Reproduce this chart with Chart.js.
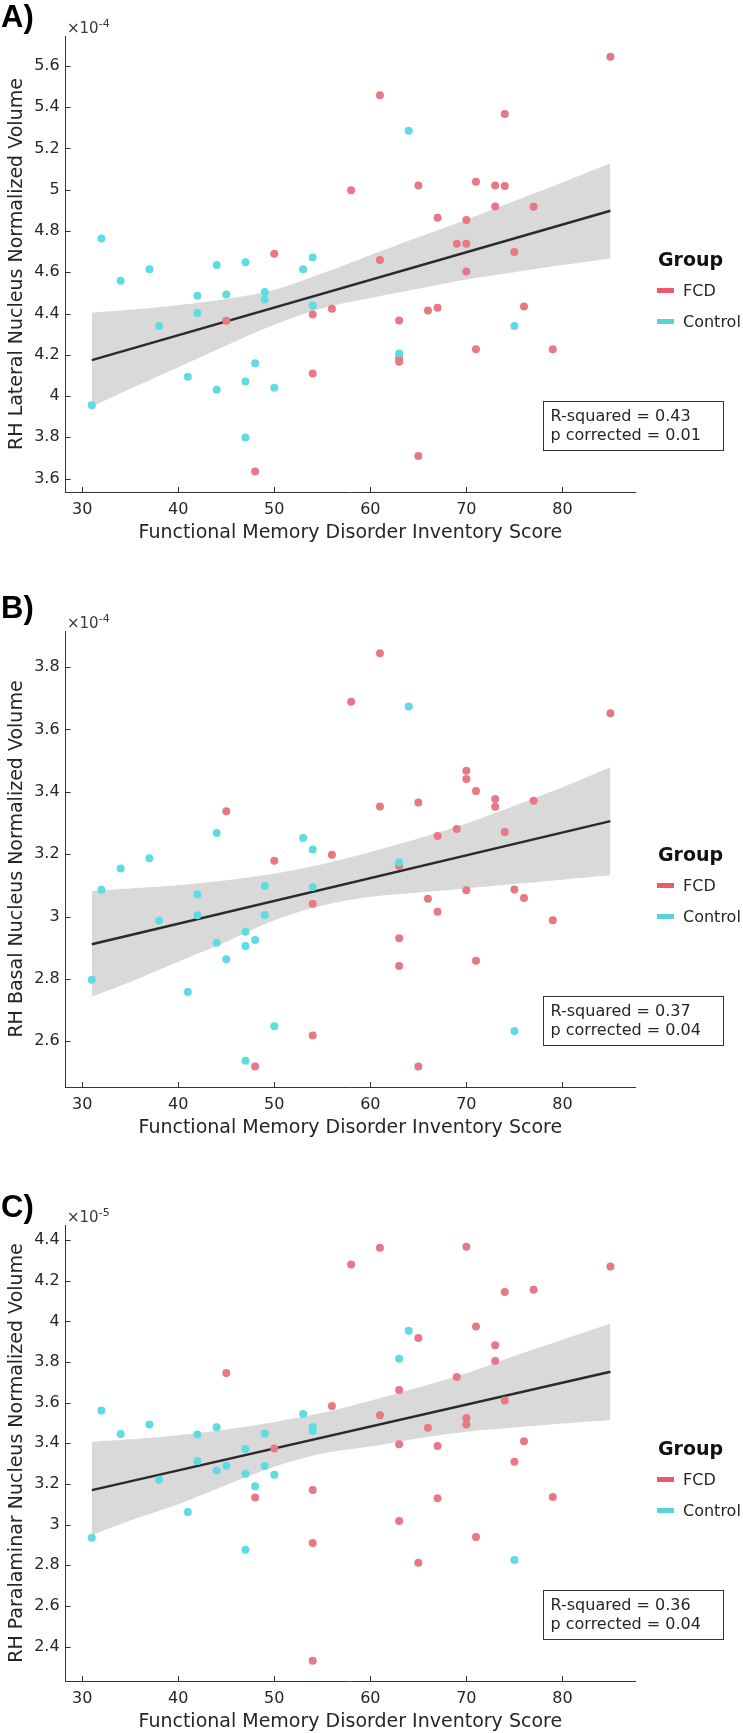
<!DOCTYPE html>
<html>
<head>
<meta charset="utf-8">
<script src="https://cdn.jsdelivr.net/npm/chart.js@4.4.1/dist/chart.umd.min.js"></script>
<style>
  html, body { margin:0; padding:0; background:#fff; }
  body { width:743px; height:1733px; position:relative; overflow:hidden; font-family:"DejaVu Sans", sans-serif; color:#262626; }
  .panel { position:absolute; left:0; width:743px; }
  .panel canvas { position:absolute; left:0; top:0; }
  .plab { position:absolute; left:1px; font:bold 31px/31px "Liberation Sans", Arial, sans-serif; color:#000; }
  .exp { position:absolute; left:67px; top:20.5px; font:15px/15px "DejaVu Sans"; color:#3a3a3a; white-space:nowrap; }
  .exp span { font-size:11px; position:relative; top:-6px; }
  .lg-title { position:absolute; left:658px; top:250.4px; font:bold 19px/19px "DejaVu Sans"; color:#111; }
  .lg-sw { position:absolute; left:657px; width:17px; height:5px; }
  .lg-txt { position:absolute; left:683px; font:16px/16px "DejaVu Sans"; color:#262626; white-space:nowrap; }
  .stats { position:absolute; left:542.5px; top:401px; width:179px; height:48px; border:1px solid #333; font:16px/18.6px "DejaVu Sans"; color:#262626; padding:5px 0 0 7px; box-sizing:border-box; width:181px; height:50px; white-space:nowrap; }
</style>
</head>
<body>
<script>
// ---------------- DATA ----------------
const X_TICKS = [30, 40, 50, 60, 70, 80];
const A_Y_TICKS = [3.6, 3.8, 4.0, 4.2, 4.4, 4.6, 4.8, 5.0, 5.2, 5.4, 5.6];
const B_Y_TICKS = [2.6, 2.8, 3.0, 3.2, 3.4, 3.6, 3.8];
const C_Y_TICKS = [2.4, 2.6, 2.8, 3.0, 3.2, 3.4, 3.6, 3.8, 4.0, 4.2, 4.4];

const GROUPS = ["FCD", "Control"];

// Panel A: RH Lateral Nucleus (x10^-4)
const A_CTRL_X = [64,32,34,37,44,47,53,54,42,45,49,49,54,42,38,63,75,48,41,47,44,50,31,47];
const A_CTRL_Y = [5.286,4.764,4.559,4.615,4.635,4.648,4.615,4.672,4.486,4.492,4.504,4.468,4.439,4.402,4.339,4.206,4.340,4.159,4.093,4.070,4.030,4.040,3.956,3.799];
const A_FCD_X = [85,61,74,58,65,71,73,74,73,77,67,70,69,70,75,50,61,70,56,66,67,76,54,45,63,71,79,63,63,54,65,48];
const A_FCD_Y = [5.644,5.458,5.367,4.997,5.020,5.039,5.020,5.018,4.919,4.918,4.864,4.853,4.738,4.738,4.698,4.690,4.659,4.604,4.423,4.415,4.428,4.434,4.395,4.365,4.366,4.227,4.227,4.185,4.166,4.109,3.710,3.634];

// Panel B: RH Basal Nucleus (x10^-4)
const B_CTRL_X = [64,44,53,54,37,34,32,42,49,54,63,38,42,49,47,44,48,47,45,31,41,50,75,47];
const B_CTRL_Y = [3.674,3.268,3.252,3.215,3.187,3.154,3.086,3.071,3.098,3.095,3.173,2.986,3.004,3.005,2.951,2.916,2.925,2.905,2.863,2.797,2.758,2.648,2.633,2.537];
const B_FCD_X = [61,58,85,70,70,71,65,73,73,61,77,45,69,74,67,56,50,63,54,66,67,70,75,76,79,63,63,71,54,48,65];
const B_FCD_Y = [3.845,3.689,3.652,3.468,3.441,3.403,3.366,3.377,3.352,3.353,3.371,3.338,3.281,3.271,3.258,3.198,3.179,3.162,3.041,3.057,3.015,3.084,3.087,3.059,2.988,2.930,2.841,2.858,2.618,2.519,2.519];

// Panel C: RH Paralaminar Nucleus (x10^-5)
const C_CTRL_X = [64,63,32,53,37,34,42,44,49,54,54,47,42,45,44,49,47,50,38,48,41,31,47,75];
const C_CTRL_Y = [3.954,3.816,3.561,3.544,3.493,3.446,3.444,3.479,3.448,3.480,3.461,3.372,3.313,3.290,3.266,3.289,3.251,3.246,3.221,3.189,3.062,2.936,2.877,2.826];
const C_FCD_X = [61,70,58,85,74,77,71,65,73,73,45,69,63,56,74,61,70,70,66,50,63,67,76,75,54,48,67,79,63,71,54,65,54];
const C_FCD_Y = [4.362,4.367,4.280,4.270,4.144,4.156,3.975,3.918,3.882,3.805,3.746,3.726,3.662,3.584,3.611,3.538,3.525,3.493,3.477,3.375,3.395,3.387,3.410,3.310,3.170,3.134,3.130,3.136,3.018,2.939,2.910,2.813,2.331];

// Fitted line end points and confidence band
const FIT_X = [31, 85];
const A_FIT_Y = [4.174, 4.898];
const B_FIT_Y = [2.911, 3.306];
const C_FIT_Y = [3.170, 3.752];

const BAND_X = [31, 35, 40, 45, 50, 55, 60, 65, 70, 75, 80, 85];
const A_UPPER = [4.404,4.418,4.440,4.470,4.515,4.595,4.683,4.770,4.855,4.945,5.035,5.128];
const A_LOWER = [3.948,4.035,4.140,4.245,4.345,4.425,4.475,4.520,4.565,4.600,4.635,4.667];
const B_UPPER = [3.082,3.090,3.100,3.116,3.138,3.168,3.207,3.250,3.298,3.355,3.415,3.479];
const B_LOWER = [2.743,2.790,2.855,2.919,2.988,3.035,3.063,3.077,3.090,3.104,3.118,3.132];
const C_UPPER = [3.408,3.420,3.440,3.468,3.505,3.550,3.610,3.675,3.745,3.830,3.910,3.990];
const C_LOWER = [2.949,3.020,3.100,3.195,3.285,3.350,3.384,3.425,3.457,3.478,3.497,3.515];

const PANEL_LABELS = ["A)", "B)", "C)"];
const Y_TITLES = ["RH Lateral Nucleus Normalized Volume", "RH Basal Nucleus Normalized Volume", "RH Paralaminar Nucleus Normalized Volume"];
const EXPONENTS = ["-4", "-4", "-5"];
const R_SQUARED = ["0.43", "0.37", "0.36"];
const P_CORRECTED = ["0.01", "0.04", "0.04"];
const X_TITLE = "Functional Memory Disorder Inventory Score";

// ---------------- STYLE ----------------
const RED = "#E87886";
const CYAN = "#5EDCE0";
const RED_LEG = "#EA5A6A";
const CYAN_LEG = "#58D3D9";
const BAND = "#D9D9D9";
const LINE = "#2a2a2a";
const AXIS = "#333333";
const TXT = "#262626";

const X_RANGE = [28.27, 87.56];
const PANELS = [
  { top: 0,    h: 595, labTop: 1,    yr: [3.535, 5.745], yt: A_Y_TICKS, cx: A_CTRL_X, cy: A_CTRL_Y, fx: A_FCD_X, fy: A_FCD_Y, fit: A_FIT_Y, up: A_UPPER, lo: A_LOWER },
  { top: 595,  h: 594, labTop: -3.4, yr: [2.453, 3.916], yt: B_Y_TICKS, cx: B_CTRL_X, cy: B_CTRL_Y, fx: B_FCD_X, fy: B_FCD_Y, fit: B_FIT_Y, up: B_UPPER, lo: B_LOWER },
  { top: 1189, h: 544, labTop: 2.3,  yr: [2.231, 4.474], yt: C_Y_TICKS, cx: C_CTRL_X, cy: C_CTRL_Y, fx: C_FCD_X, fy: C_FCD_Y, fit: C_FIT_Y, up: C_UPPER, lo: C_LOWER },
];

const pts = (xs, ys) => xs.map((x, i) => ({ x: x, y: ys[i] }));
const fmt = v => String(Number(v.toFixed(2)));

const inwardTicks = {
  id: "inwardTicks",
  afterDraw(chart) {
    const { ctx, chartArea: ca, scales: { x, y } } = chart;
    ctx.save();
    ctx.strokeStyle = AXIS;
    ctx.lineWidth = 1;
    x.ticks.forEach(t => {
      const px = Math.round(x.getPixelForValue(t.value)) + 0.5;
      ctx.beginPath(); ctx.moveTo(px, ca.bottom); ctx.lineTo(px, ca.bottom - 5); ctx.stroke();
    });
    y.ticks.forEach(t => {
      const py = Math.round(y.getPixelForValue(t.value)) + 0.5;
      ctx.beginPath(); ctx.moveTo(ca.left, py); ctx.lineTo(ca.left + 5, py); ctx.stroke();
    });
    ctx.restore();
  }
};

PANELS.forEach((p, i) => {
  const div = document.createElement("div");
  div.className = "panel";
  div.style.top = p.top + "px";
  div.style.height = p.h + "px";
  document.body.appendChild(div);

  const cv = document.createElement("canvas");
  cv.width = 743; cv.height = p.h;
  cv.style.width = "743px"; cv.style.height = p.h + "px";
  div.appendChild(cv);

  const lab = document.createElement("div");
  lab.className = "plab"; lab.style.top = p.labTop + "px"; lab.textContent = PANEL_LABELS[i];
  div.appendChild(lab);

  const ex = document.createElement("div");
  ex.className = "exp";
  ex.innerHTML = "×10<span>" + EXPONENTS[i] + "</span>";
  div.appendChild(ex);

  const lt = document.createElement("div");
  lt.className = "lg-title"; lt.textContent = "Group";
  div.appendChild(lt);
  [[GROUPS[0], RED_LEG, 290.7], [GROUPS[1], CYAN_LEG, 321.7]].forEach(([name, col, cy]) => {
    const sw = document.createElement("div");
    sw.className = "lg-sw"; sw.style.background = col; sw.style.top = (cy - 2.5) + "px";
    div.appendChild(sw);
    const tx = document.createElement("div");
    tx.className = "lg-txt"; tx.style.top = (cy - 7.7) + "px"; tx.textContent = name;
    div.appendChild(tx);
  });

  const st = document.createElement("div");
  st.className = "stats";
  st.innerHTML = "R-squared = " + R_SQUARED[i] + "<br>p corrected = " + P_CORRECTED[i];
  div.appendChild(st);

  new Chart(cv.getContext("2d"), {
    type: "scatter",
    data: {
      datasets: [
        { label: "Control", data: pts(p.cx, p.cy), backgroundColor: CYAN, borderWidth: 0, pointRadius: 4, order: 0 },
        { label: "FCD", data: pts(p.fx, p.fy), backgroundColor: RED, borderWidth: 0, pointRadius: 4, order: 1 },
        { label: "fit", data: pts(FIT_X, p.fit), showLine: true, borderColor: LINE, borderWidth: 2.5, pointRadius: 0, fill: false, order: 2 },
        { label: "upper", data: pts(BAND_X, p.up), showLine: true, borderColor: "rgba(0,0,0,0)", borderWidth: 0, pointRadius: 0, fill: false, tension: 0.3, order: 3 },
        { label: "lower", data: pts(BAND_X, p.lo), showLine: true, borderColor: "rgba(0,0,0,0)", borderWidth: 0, pointRadius: 0, fill: 3, backgroundColor: BAND, tension: 0.3, order: 4 },
      ]
    },
    options: {
      responsive: false,
      animation: false,
      devicePixelRatio: 1,
      layout: { padding: { top: 36, right: 108, bottom: p.h - 544, left: 0 } },
      plugins: { legend: { display: false }, tooltip: { enabled: false } },
      events: [],
      scales: {
        x: {
          type: "linear", min: X_RANGE[0], max: X_RANGE[1],
          afterBuildTicks: s => { s.ticks = X_TICKS.map(v => ({ value: v })); },
          afterFit: s => { s.height = 52; },
          grid: { display: false, drawTicks: false },
          border: { display: true, color: AXIS, width: 1 },
          ticks: { padding: 8, color: TXT, font: { family: "DejaVu Sans", size: 16 }, callback: v => fmt(v), maxRotation: 0 },
          title: { display: true, text: X_TITLE, color: TXT, font: { family: "DejaVu Sans", size: 19 }, padding: { top: 0, bottom: 0 } }
        },
        y: {
          type: "linear", min: p.yr[0], max: p.yr[1],
          afterBuildTicks: s => { s.ticks = p.yt.map(v => ({ value: v })); },
          afterFit: s => { s.width = 65.6; },
          grid: { display: false, drawTicks: false },
          border: { display: true, color: AXIS, width: 1 },
          ticks: { padding: 6, color: TXT, font: { family: "DejaVu Sans", size: 16 }, callback: v => fmt(v) },
          title: { display: true, text: Y_TITLES[i], color: TXT, font: { family: "DejaVu Sans", size: 19 }, padding: { top: 6, bottom: 0 } }
        }
      }
    },
    plugins: [inwardTicks]
  });
});
</script>
</body>
</html>
